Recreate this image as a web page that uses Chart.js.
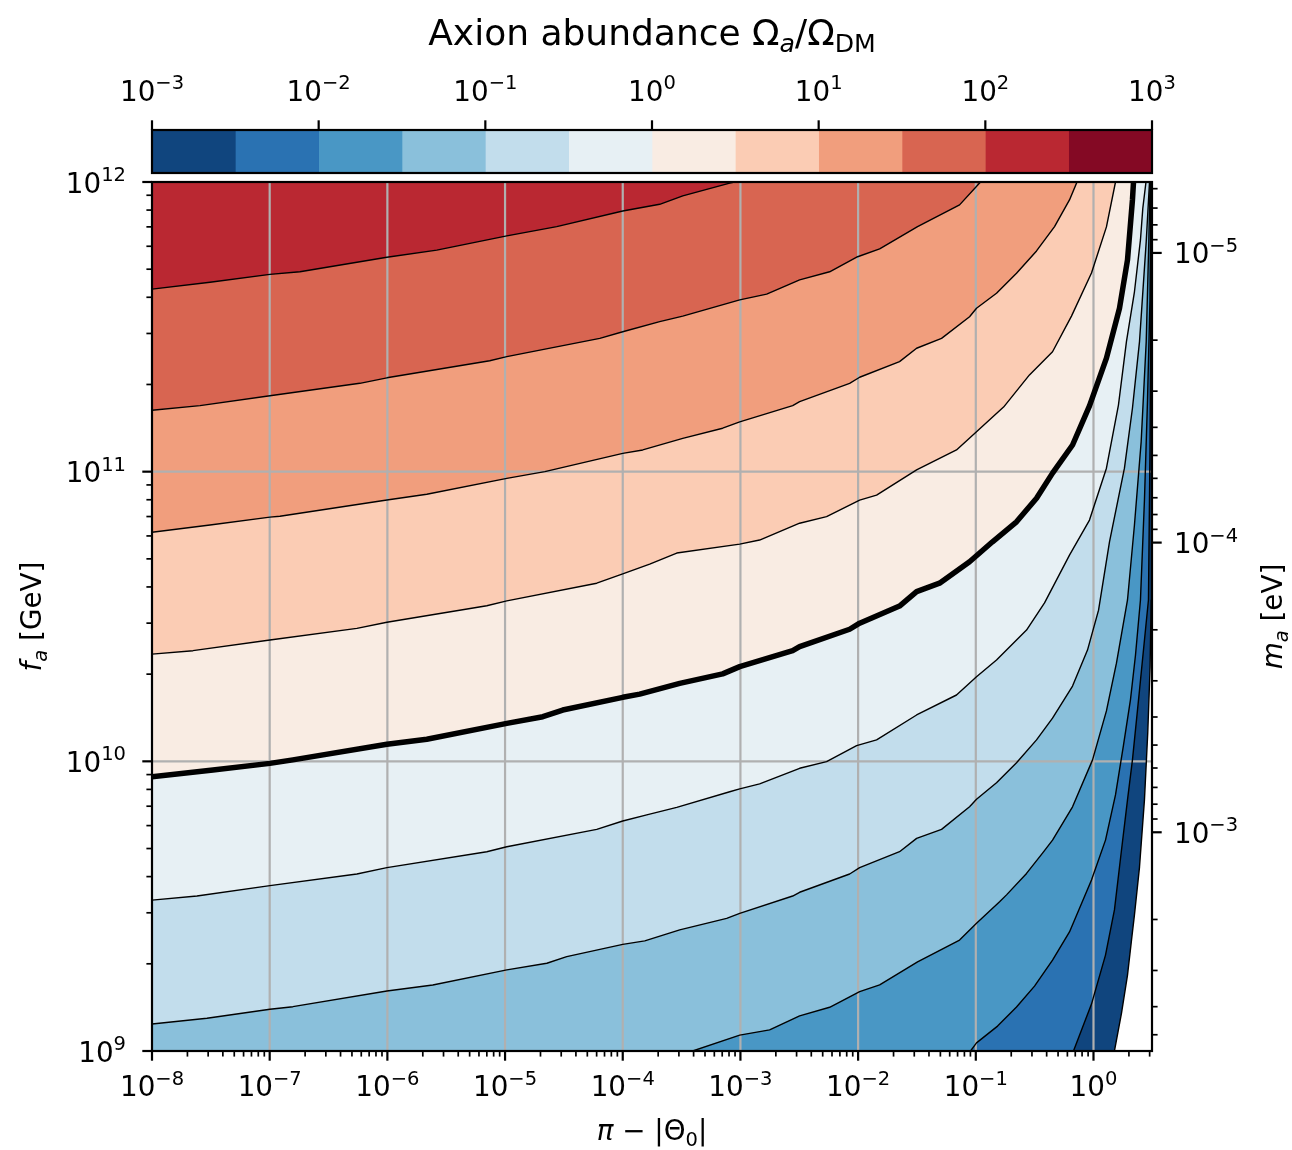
<!DOCTYPE html>
<html>
<head>
<meta charset="utf-8">
<title>Axion abundance</title>
<script src="https://cdn.jsdelivr.net/npm/chart.js@4.4.1/dist/chart.umd.min.js"></script>
<style>
  html, body { margin: 0; padding: 0; background: #fff; }
  #wrap { position: relative; width: 1292px; height: 1150px; }
  #wrap canvas { position: absolute; left: 0; top: 0; }
</style>
</head>
<body>
<div id="wrap">
  <canvas id="plot" width="1292" height="1150"></canvas>
  <canvas id="cbar" width="1292" height="182"></canvas>
</div>
<script>
// contour levels of Omega_a / Omega_DM as log10, one every half decade
const levelExps = [-3, -2.5, -2, -1.5, -1, -0.5, 0, 0.5, 1, 1.5, 2, 2.5, 3];

// tick labels, powers of ten
const thetaTickExps = [-8, -7, -6, -5, -4, -3, -2, -1, 0];
const faTickExps = [9, 10, 11, 12];
const maTickExps = [-5, -4, -3];
const cbarTickExps = [-3, -2, -1, 0, 1, 2, 3];

// contour lines
// lgX = log10(pi - |Theta_0|), lgF = log10(f_a / GeV)
const lgX_p20 = [-8, -7.507, -6.998, -6.743, -6.004, -5.58, -4.985, -4.561, -4.0, -3.686, -3.49, -3.091, -3.049];
const lgF_p20 = [11.63, 11.654, 11.681, 11.69, 11.74, 11.765, 11.814, 11.846, 11.9, 11.923, 11.952, 11.996, 12];

const lgX_p15 = [-8, -7.592, -6.998, -6.234, -6.004, -5.13, -4.985, -4.195, -4.0, -3.686, -3.49, -3.006, -2.777, -2.497, -2.242, -2.004, -1.817, -1.495, -1.138, -0.96];
const lgF_p15 = [11.212, 11.228, 11.262, 11.305, 11.324, 11.383, 11.397, 11.46, 11.483, 11.518, 11.537, 11.593, 11.613, 11.662, 11.69, 11.742, 11.769, 11.846, 11.921, 12];

const lgX_p10 = [-8, -7.507, -6.998, -6.913, -6.004, -5.665, -4.985, -4.662, -4.0, -3.83, -3.49, -3.151, -3.006, -2.556, -2.497, -2.072, -1.987, -1.648, -1.503, -1.291, -1.053, -0.994, -0.824, -0.654, -0.484, -0.331, -0.204, -0.14];
const lgF_p10 = [10.791, 10.816, 10.843, 10.846, 10.902, 10.922, 10.977, 11.0, 11.063, 11.075, 11.115, 11.15, 11.172, 11.228, 11.242, 11.305, 11.326, 11.38, 11.426, 11.46, 11.535, 11.564, 11.616, 11.685, 11.762, 11.846, 11.938, 12];

const lgX_p05 = [-8, -7.652, -6.998, -6.259, -6.004, -5.155, -4.985, -4.221, -4.0, -3.771, -3.541, -3.006, -2.837, -2.497, -2.268, -1.987, -1.843, -1.503, -1.164, -0.994, -0.764, -0.544, -0.348, -0.187, -0.017, 0.11, 0.187];
const lgF_p05 = [10.37, 10.382, 10.419, 10.459, 10.48, 10.537, 10.554, 10.615, 10.647, 10.681, 10.719, 10.75, 10.764, 10.822, 10.845, 10.902, 10.919, 11.006, 11.075, 11.138, 11.223, 11.334, 11.414, 11.537, 11.686, 11.845, 12];

const lgX_z00 = [-8, -7.482, -6.998, -6.803, -6.004, -5.665, -4.985, -4.679, -4.51, -4.0, -3.856, -3.516, -3.151, -3.006, -2.556, -2.497, -2.072, -1.987, -1.648, -1.503, -1.308, -1.053, -0.858, -0.654, -0.484, -0.348, -0.178, -0.034, 0.11, 0.221, 0.289, 0.331, 0.34];
const lgF_z00 = [9.947, 9.97, 9.993, 10.005, 10.059, 10.076, 10.131, 10.154, 10.177, 10.221, 10.232, 10.269, 10.302, 10.327, 10.382, 10.396, 10.456, 10.477, 10.536, 10.586, 10.615, 10.689, 10.758, 10.827, 10.908, 10.995, 11.092, 11.227, 11.392, 11.564, 11.731, 11.938, 12];

const lgX_m05 = [-8, -7.618, -6.998, -6.259, -6.004, -5.155, -4.985, -4.221, -4.0, -3.796, -3.541, -3.091, -3.006, -2.837, -2.497, -2.268, -2.013, -1.843, -1.503, -1.164, -0.994, -0.824, -0.569, -0.416, -0.204, -0.034, 0.11, 0.212, 0.28, 0.348, 0.399, 0.419, 0.446];
const lgF_m05 = [9.521, 9.535, 9.571, 9.611, 9.633, 9.688, 9.705, 9.765, 9.794, 9.815, 9.841, 9.895, 9.905, 9.922, 9.976, 9.999, 10.054, 10.074, 10.16, 10.229, 10.292, 10.35, 10.453, 10.547, 10.712, 10.833, 11.012, 11.23, 11.449, 11.621, 11.8, 11.909, 12];

const lgX_m10 = [-8, -7.533, -6.998, -6.803, -6.004, -5.614, -4.985, -4.645, -4.476, -4.0, -3.813, -3.516, -3.117, -3.006, -2.556, -2.497, -2.072, -1.987, -1.648, -1.503, -1.291, -1.053, -0.994, -0.824, -0.654, -0.484, -0.348, -0.178, -0.051, 0.043, 0.136, 0.263, 0.331, 0.391, 0.448, 0.476];
const lgF_m10 = [9.093, 9.113, 9.144, 9.153, 9.207, 9.228, 9.28, 9.303, 9.326, 9.368, 9.38, 9.418, 9.458, 9.475, 9.535, 9.548, 9.611, 9.633, 9.688, 9.734, 9.765, 9.843, 9.869, 9.926, 9.995, 10.074, 10.149, 10.26, 10.384, 10.522, 10.758, 11.012, 11.219, 11.449, 11.794, 12];

const lgX_m15 = [-3.406, -3.006, -2.752, -2.497, -2.242, -1.987, -1.817, -1.495, -1.138, -0.994, -0.798, -0.739, -0.569, -0.433, -0.348, -0.178, -0.008, 0.11, 0.195, 0.289, 0.348, 0.405, 0.448, 0.47, 0.481];
const lgF_m15 = [9.0, 9.055, 9.073, 9.121, 9.151, 9.205, 9.228, 9.308, 9.383, 9.441, 9.515, 9.539, 9.613, 9.683, 9.728, 9.843, 10.005, 10.174, 10.339, 10.557, 10.816, 11.103, 11.449, 11.794, 12];

const lgX_m20 = [-1.045, -0.994, -0.815, -0.654, -0.501, -0.348, -0.204, -0.017, 0.102, 0.187, 0.255, 0.314, 0.357, 0.399, 0.433, 0.459, 0.48, 0.488];
const lgF_m20 = [9.0, 9.028, 9.086, 9.152, 9.224, 9.314, 9.411, 9.59, 9.728, 9.884, 10.056, 10.212, 10.367, 10.557, 10.902, 11.247, 11.593, 12];

const lgX_m25 = [-0.17, -0.017, 0.102, 0.178, 0.238, 0.289, 0.331, 0.391, 0.45, 0.467, 0.48, 0.487, 0.491];
const lgF_m25 = [9.0, 9.162, 9.331, 9.487, 9.694, 9.867, 10.005, 10.246, 10.488, 10.557, 11.075, 11.524, 12];

const lgX_m30 = [0.178, 0.238, 0.289, 0.323, 0.348, 0.391, 0.433, 0.461, 0.481, 0.49, 0.492, 0.493];
const lgF_m30 = [9.0, 9.131, 9.262, 9.383, 9.47, 9.635, 9.867, 10.098, 10.326, 10.557, 11.2, 12];

const contours = [
  {level: -3, lgX: lgX_m30, lgF: lgF_m30},
  {level: -2.5, lgX: lgX_m25, lgF: lgF_m25},
  {level: -2, lgX: lgX_m20, lgF: lgF_m20},
  {level: -1.5, lgX: lgX_m15, lgF: lgF_m15},
  {level: -1, lgX: lgX_m10, lgF: lgF_m10},
  {level: -0.5, lgX: lgX_m05, lgF: lgF_m05},
  {level: 0, lgX: lgX_z00, lgF: lgF_z00},
  {level: 0.5, lgX: lgX_p05, lgF: lgF_p05},
  {level: 1, lgX: lgX_p10, lgF: lgF_p10},
  {level: 1.5, lgX: lgX_p15, lgF: lgF_p15},
  {level: 2, lgX: lgX_p20, lgF: lgF_p20}
];

// RdBu_r, one colour per half decade bin
const binColors = ['#10457e', '#2a72b2', '#4997c5', '#8ac0db', '#c2ddec', '#e7f0f4',
                   '#f9ece3', '#fbccb4', '#f19e7d', '#d86551', '#ba2832', '#840924'];

const X_MIN = 1e-8, X_MAX = Math.PI, FA_MIN = 1e9, FA_MAX = 1e12;
const MA_TOP = 5.69e-6, MA_BOTTOM = 5.69e-3;   // m_a at f_a = 1e12 and 1e9 GeV
const FONT = '"DejaVu Sans", sans-serif';
const TICK_FS = 27.8;

const toPts = c => c.lgX.map((v, i) => ({x: 10 ** v, y: 10 ** c.lgF[i]}));

const lineSets = contours.map(c => ({
  data: toPts(c),
  borderColor: '#000',
  borderWidth: c.level === 0 ? 5.5 : 1.4,
  borderJoinStyle: 'round',
  fill: false,
  pointRadius: 0,
  tension: 0
}));

// region with Omega >= level, painted from the lowest level up
const fillSets = contours.slice().reverse().map(c => {
  const p = toPts(c);
  p.push({x: X_MIN, y: FA_MAX});
  if (c.lgF[0] <= 9) p.push({x: X_MIN, y: FA_MIN});
  return {
    data: p,
    backgroundColor: binColors[levelExps.indexOf(c.level)],
    borderWidth: 0,
    fill: 'shape',
    pointRadius: 0,
    tension: 0
  };
});

function drawRich(ctx, runs, x, y, size, align) {
  ctx.save();
  ctx.fillStyle = '#000';
  ctx.textAlign = 'left';
  ctx.textBaseline = 'alphabetic';
  const parts = runs.map(r => {
    const s = (r.sup || r.sub) ? size * 0.7 : size;
    const font = (r.it ? 'italic ' : '') + s.toFixed(1) + 'px ' + FONT;
    ctx.font = font;
    return {r, font, w: ctx.measureText(r.t).width};
  });
  const total = parts.reduce((s, p) => s + p.w, 0);
  let cx = align === 'center' ? x - total / 2 : align === 'right' ? x - total : x;
  parts.forEach(p => {
    ctx.font = p.font;
    const dy = p.r.sup ? -0.41 * size : p.r.sub ? 0.2 * size : 0;
    ctx.fillText(p.r.t, cx, y + dy);
    cx += p.w;
  });
  ctx.restore();
}

const pow10 = e => [{t: '10'}, {t: (e < 0 ? '\u2212' : '') + Math.abs(e), sup: true}];

function tickLine(ctx, x0, y0, x1, y1, w) {
  ctx.lineWidth = w;
  ctx.beginPath();
  ctx.moveTo(x0, y0);
  ctx.lineTo(x1, y1);
  ctx.stroke();
}

function minorValues(min, max) {
  const out = [];
  for (let e = Math.floor(Math.log10(min)); e <= Math.ceil(Math.log10(max)); e++) {
    for (let m = 2; m <= 9; m++) {
      const v = m * 10 ** e;
      if (v >= min && v <= max) out.push(v);
    }
  }
  return out;
}

const axesDecor = {
  id: 'axesDecor',
  // grid goes over the filled contours but under the contour lines
  beforeDatasetsDraw(chart) {
    const {ctx, chartArea: a, scales: {x, y}} = chart;
    ctx.save();
    ctx.strokeStyle = '#b0b0b0';
    ctx.lineWidth = 2.2;
    ctx.beginPath();
    thetaTickExps.forEach(e => {
      const px = x.getPixelForValue(10 ** e);
      if (px > a.left + 1 && px < a.right - 1) { ctx.moveTo(px, a.top); ctx.lineTo(px, a.bottom); }
    });
    faTickExps.forEach(e => {
      const py = y.getPixelForValue(10 ** e);
      if (py > a.top + 1 && py < a.bottom - 1) { ctx.moveTo(a.left, py); ctx.lineTo(a.right, py); }
    });
    ctx.stroke();
    ctx.restore();
  },
  afterDatasetsDraw(chart) {
    const {ctx, chartArea: a, scales: {x, y, y2}} = chart;
    ctx.save();
    ctx.strokeStyle = '#000';
    ctx.lineWidth = 2.2;
    ctx.strokeRect(a.left, a.top, a.right - a.left, a.bottom - a.top);

    thetaTickExps.forEach(e => {
      const px = x.getPixelForValue(10 ** e);
      tickLine(ctx, px, a.bottom, px, a.bottom + 9.7, 2.2);
      drawRich(ctx, pow10(e), px, a.bottom + 45, TICK_FS, 'center');
    });
    minorValues(X_MIN, X_MAX).forEach(v => {
      const px = x.getPixelForValue(v);
      tickLine(ctx, px, a.bottom, px, a.bottom + 5.6, 1.7);
    });

    faTickExps.forEach(e => {
      const py = y.getPixelForValue(10 ** e);
      tickLine(ctx, a.left, py, a.left - 9.7, py, 2.2);
      drawRich(ctx, pow10(e), a.left - 26, py + 10.5, TICK_FS, 'right');
    });
    minorValues(FA_MIN, FA_MAX).forEach(v => {
      const py = y.getPixelForValue(v);
      tickLine(ctx, a.left, py, a.left - 5.6, py, 1.7);
    });

    maTickExps.forEach(e => {
      const py = y2.getPixelForValue(10 ** e);
      tickLine(ctx, a.right, py, a.right + 9.7, py, 2.2);
      drawRich(ctx, pow10(e), a.right + 22, py + 10.5, TICK_FS, 'left');
    });
    minorValues(MA_TOP, MA_BOTTOM).forEach(v => {
      const py = y2.getPixelForValue(v);
      tickLine(ctx, a.right, py, a.right + 5.6, py, 1.7);
    });

    // axis titles
    const cy = (a.top + a.bottom) / 2;
    drawRich(ctx, [{t: '\u03c0', it: true}, {t: ' \u2212 |\u0398'}, {t: '0', sub: true}, {t: '|'}],
      (a.left + a.right) / 2, 1140, TICK_FS, 'center');
    ctx.save();
    ctx.translate(41, cy);
    ctx.rotate(-Math.PI / 2);
    drawRich(ctx, [{t: 'f', it: true}, {t: 'a', it: true, sub: true}, {t: ' [GeV]'}], 0, 0, TICK_FS, 'center');
    ctx.restore();
    ctx.save();
    ctx.translate(1282, cy);
    ctx.rotate(-Math.PI / 2);
    drawRich(ctx, [{t: 'm', it: true}, {t: 'a', it: true, sub: true}, {t: ' [eV]'}], 0, 0, TICK_FS, 'center');
    ctx.restore();
    ctx.restore();
  }
};

new Chart(document.getElementById('plot'), {
  type: 'line',
  data: {datasets: lineSets.concat(fillSets)},
  options: {
    responsive: false,
    animation: false,
    events: [],
    layout: {padding: {left: 152, right: 140, top: 182, bottom: 99}},
    plugins: {
      legend: {display: false},
      tooltip: {enabled: false},
      filler: {drawTime: 'beforeDatasetsDraw'}
    },
    scales: {
      x: {type: 'logarithmic', min: X_MIN, max: X_MAX, display: false},
      y: {type: 'logarithmic', min: FA_MIN, max: FA_MAX, display: false},
      y2: {type: 'logarithmic', position: 'right', reverse: true, min: MA_TOP, max: MA_BOTTOM, display: false}
    }
  },
  plugins: [axesDecor]
});

// colorbar
const cbarDecor = {
  id: 'cbarDecor',
  afterDatasetsDraw(chart) {
    const {ctx, chartArea: a, scales: {x}} = chart;
    ctx.save();
    ctx.strokeStyle = '#000';
    ctx.lineWidth = 2.2;
    ctx.strokeRect(a.left, a.top, a.right - a.left, a.bottom - a.top);
    cbarTickExps.forEach(e => {
      const px = x.getPixelForValue(10 ** e);
      tickLine(ctx, px, a.top, px, a.top - 9.7, 2.2);
      drawRich(ctx, pow10(e), px, a.top - 29.5, TICK_FS, 'center');
    });
    drawRich(ctx, [{t: 'Axion abundance '}, {t: '\u03a9'}, {t: 'a', it: true, sub: true}, {t: '/\u03a9'}, {t: 'DM', sub: true}],
      (a.left + a.right) / 2, 45, 36, 'center');
    ctx.restore();
  }
};

new Chart(document.getElementById('cbar'), {
  type: 'bar',
  data: {
    labels: [''],
    datasets: binColors.map((c, i) => ({
      data: [[10 ** levelExps[i], 10 ** levelExps[i + 1]]],
      backgroundColor: c,
      borderWidth: 0
    }))
  },
  options: {
    indexAxis: 'y',
    responsive: false,
    animation: false,
    events: [],
    layout: {padding: {left: 152, right: 140, top: 130, bottom: 9}},
    datasets: {bar: {grouped: false, barPercentage: 1, categoryPercentage: 1}},
    plugins: {legend: {display: false}, tooltip: {enabled: false}},
    scales: {
      x: {type: 'logarithmic', min: 1e-3, max: 1e3, display: false},
      y: {display: false}
    }
  },
  plugins: [cbarDecor]
});
</script>
</body>
</html>
